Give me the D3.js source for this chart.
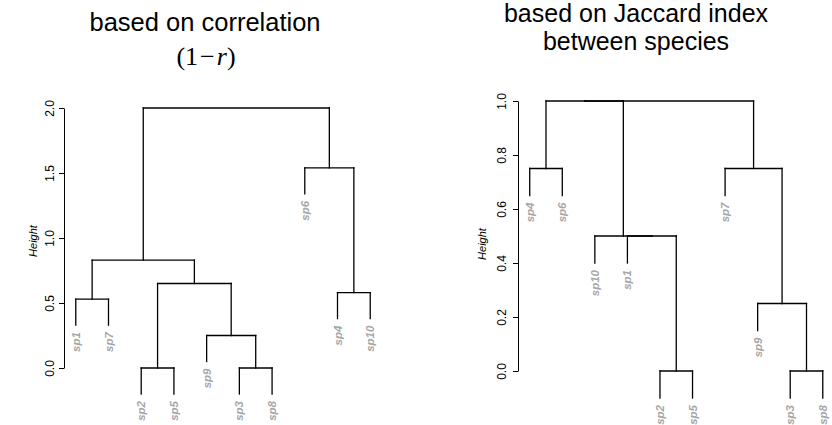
<!DOCTYPE html>
<html>
<head>
<meta charset="utf-8">
<script src="https://cdn.jsdelivr.net/npm/d3@7"></script>
<style>
  body { margin: 0; background: #fff; }
  svg { display: block; }
  .title { font-family: 'Liberation Sans', Arial, Helvetica, sans-serif; fill: #000; }
  .math { font-family: 'Liberation Serif', 'Times New Roman', serif; fill: #000; }
  .tick text { font-family: 'Liberation Sans', Arial, sans-serif; }
  .leaf { font-family: 'Liberation Sans', Arial, sans-serif; font-weight: bold; font-style: italic; fill: #a6a6a6; }
</style>
</head>
<body>
<div id="chart"></div>
<script>
// Left panel: correlation distance (1 - r)
const corrLeaves = ['sp1', 'sp7', 'sp2', 'sp5', 'sp9', 'sp3', 'sp8', 'sp6', 'sp4', 'sp10'];
// merge rows: leaf name or 1-based index of an earlier merge
const corrMerge = [
  ['sp2', 'sp5'],
  ['sp3', 'sp8'],
  ['sp9', 2],
  [1, 3],
  ['sp1', 'sp7'],
  ['sp4', 'sp10'],
  [5, 4],
  ['sp6', 6],
  [7, 8]
];
const corrHeight = [0, 0, 0.25, 0.65, 0.53, 0.58, 0.83, 1.54, 2.0];
const corrTicks = [0, 0.5, 1.0, 1.5, 2.0];
const corrHang = 0.2;

// Right panel: Jaccard index
const jacLeaves = ['sp4', 'sp6', 'sp10', 'sp1', 'sp2', 'sp5', 'sp7', 'sp9', 'sp3', 'sp8'];
const jacMerge = [
  ['sp2', 'sp5'],
  ['sp3', 'sp8'],
  ['sp9', 2],
  ['sp1', 1],
  ['sp10', 4],
  ['sp4', 'sp6'],
  ['sp7', 3],
  [6, 5],
  [8, 7]
];
const jacHeight = [0, 0, 0.25, 0.5, 0.5, 0.75, 0.75, 1.0, 1.0];
const jacTicks = [0, 0.2, 0.4, 0.6, 0.8, 1.0];
const jacHang = 0.1;

const W = 832, H = 425;

const svg = d3.select('#chart')
  .append('svg')
  .attr('width', W)
  .attr('height', H);

function drawDendro(opts) {
  const { leaves, merge, heights, ticks, hang, left, right, yTop, yBottom } = opts;

  // R style x range: 1..n padded by 4% each side
  const n = leaves.length;
  const pad = (n - 1) * 0.04;
  const x = d3.scaleLinear().domain([1 - pad, n + pad]).range([left, right]);
  const y = d3.scaleLinear().domain([0, d3.max(ticks)]).range([yBottom, yTop]);

  const g = svg.append('g');

  // Axis
  const axis = d3.axisLeft(y)
    .tickValues(ticks)
    .tickFormat(d3.format('.1f'))
    .tickSizeInner(5)
    .tickSizeOuter(0);

  g.append('g')
    .attr('transform', `translate(${left},0)`)
    .call(axis)
    .call((a) => a.select('.domain').attr('stroke', '#000').attr('stroke-width', 1))
    .call((a) => a.selectAll('.tick line').attr('stroke', '#000'))
    .call((a) =>
      a.selectAll('.tick text')
        .attr('x', null)
        .attr('dy', '0.35em')
        .attr('fill', '#000')
        .attr('font-size', 12)
        .attr('text-anchor', 'middle')
        .attr('transform', `translate(${-opts.tickGap},0) rotate(-90)`)
    );

  // y axis title
  g.append('text')
    .attr('transform', `translate(${left - opts.labGap},${opts.labY}) rotate(-90)`)
    .attr('text-anchor', 'middle')
    .attr('dy', '0.35em')
    .attr('font-family', "'Liberation Sans', Arial, sans-serif")
    .attr('font-style', 'italic')
    .attr('font-size', 11)
    .text('Height');

  // Build nodes
  const pos = (name) => leaves.indexOf(name) + 1;
  const nodes = [];
  const child = (c) => (typeof c === 'string'
    ? { x: pos(c), h: null, leaf: c }
    : { x: nodes[c - 1].x, h: nodes[c - 1].h, leaf: null });

  const segs = [];
  const labels = [];
  merge.forEach((m, i) => {
    const h = heights[i];
    const a = child(m[0]);
    const b = child(m[1]);
    [a, b].forEach((c) => {
      const bottom = c.leaf ? h - hang : c.h;
      segs.push([c.x, bottom, c.x, h]);
      if (c.leaf) labels.push({ name: c.leaf, x: c.x, h: h - hang });
    });
    segs.push([a.x, h, b.x, h]);
    nodes.push({ x: (a.x + b.x) / 2, h: h });
  });

  g.append('g')
    .selectAll('line')
    .data(segs)
    .join('line')
    .attr('x1', (d) => x(d[0]))
    .attr('y1', (d) => y(d[1]))
    .attr('x2', (d) => x(d[2]))
    .attr('y2', (d) => y(d[3]))
    .attr('stroke', '#000')
    .attr('stroke-width', 1.3)
    .attr('stroke-linecap', 'square');

  g.append('g')
    .selectAll('text')
    .data(labels)
    .join('text')
    .attr('class', 'leaf')
    .attr('font-size', 11.5)
    .attr('text-anchor', 'end')
    .attr('dy', '0.35em')
    .attr('transform', (d) => `translate(${x(d.x)},${y(d.h) + 7}) rotate(-90)`)
    .text((d) => d.name);
}

drawDendro({
  leaves: corrLeaves, merge: corrMerge, heights: corrHeight, ticks: corrTicks, hang: corrHang,
  left: 64, right: 382, yTop: 108, yBottom: 368, tickGap: 14, labGap: 31, labY: 241
});

drawDendro({
  leaves: jacLeaves, merge: jacMerge, heights: jacHeight, ticks: jacTicks, hang: jacHang,
  left: 518, right: 834.5, yTop: 101, yBottom: 371, tickGap: 16, labGap: 36, labY: 244
});

// Titles
svg.append('text').attr('class', 'title')
  .attr('x', 205).attr('y', 31)
  .attr('text-anchor', 'middle').attr('font-size', 25.5)
  .text('based on correlation');

const math = svg.append('text').attr('class', 'math')
  .attr('x', 206).attr('y', 65)
  .attr('text-anchor', 'middle').attr('font-size', 26);
math.append('tspan').text('(1');
math.append('tspan').attr('dx', 2).text('\u2212');
math.append('tspan').attr('dx', 2).attr('font-style', 'italic').text('r');
math.append('tspan').text(')');

svg.append('text').attr('class', 'title')
  .attr('x', 636).attr('y', 22)
  .attr('text-anchor', 'middle').attr('font-size', 25)
  .text('based on Jaccard index');

svg.append('text').attr('class', 'title')
  .attr('x', 636).attr('y', 50)
  .attr('text-anchor', 'middle').attr('font-size', 25)
  .text('between species');
</script>
</body>
</html>
